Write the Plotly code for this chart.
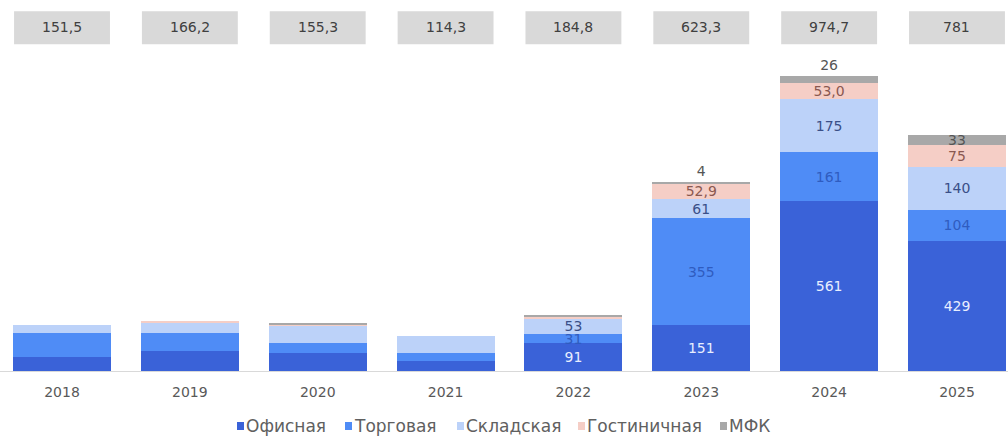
import plotly.graph_objects as go

# Commercial real estate volume by segment
years = ["2018", "2019", "2020", "2021", "2022", "2023", "2024", "2025"]
office = [46, 67, 58, 33, 91, 151, 561, 429]
trade = [79, 57, 35.5, 25, 31, 355, 161, 104]
warehouse = [26.5, 33, 57.5, 56.3, 53, 61, 175, 140]
hotel = [0, 9.2, 2.3, 0, 5, 52.9, 53.0, 75]
mfk = [0, 0, 2, 0, 4.8, 4, 26, 33]
totals = [151.5, 166.2, 155.3, 114.3, 184.8, 623.3, 974.7, 781]

series_names = ["Офисная", "Торговая", "Складская", "Гостиничная", "МФК"]
series_values = [office, trade, warehouse, hotel, mfk]
series_colors = ["#3a62d8", "#4f8cf6", "#bcd2f9", "#f5cec6", "#a8a8a8"]
label_colors = ["#e8eeff", "#2f5cc0", "#3a4f88", "#8a5850", "#555555"]
label_from = [4, 4, 4, 5, 5]  # first year index that carries a value label

NUM_FONT = "DejaVu Sans"


def fmt(v):
    if isinstance(v, float):
        return f"{v:.1f}".replace(".", ",")
    return str(v)


fig = go.Figure()
for name, vals, col, lcol, start in zip(series_names, series_values, series_colors,
                                        label_colors, label_from):
    texts = [fmt(v) if i >= start else "" for i, v in enumerate(vals)]
    if name == "МФК":
        pos = ["outside" if i in (5, 6) else "inside" for i in range(len(vals))]
    else:
        pos = "inside"
    fig.add_trace(go.Bar(
        x=years, y=vals, name=name,
        marker=dict(color=col, line=dict(width=0)),
        text=texts, textposition=pos, textangle=0,
        insidetextanchor="middle", constraintext="none",
        textfont=dict(family=NUM_FONT, size=14, color=lcol),
        outsidetextfont=dict(family=NUM_FONT, size=14, color=lcol),
        cliponaxis=False, showlegend=False,
    ))

plot_h = 371
fig.update_layout(
    width=1008, height=441,
    margin=dict(l=0, r=0, t=0, b=441 - plot_h),
    barmode="stack", bargap=0.233,
    plot_bgcolor="white", paper_bgcolor="white",
    xaxis=dict(
        type="category", range=[-0.485, 7.399],
        showline=True, linecolor="#d9d9d9", linewidth=1,
        showgrid=False, zeroline=False,
        ticks="outside", ticklen=8, tickcolor="rgba(0,0,0,0)",
        tickfont=dict(family=NUM_FONT, size=14, color="#595959"),
    ),
    yaxis=dict(range=[0, 1225.6], visible=False),
)

# Totals in grey boxes above each year
for i, t in enumerate(totals):
    fig.add_shape(type="rect", xref="x", yref="paper",
                  x0=i - 0.375, x1=i + 0.375, y0=0.881, y1=0.970,
                  fillcolor="#d9d9d9", line=dict(width=0), layer="below")
    fig.add_annotation(x=i, y=0.926, xref="x", yref="paper",
                       xanchor="center", yanchor="middle",
                       text=fmt(t), showarrow=False,
                       font=dict(family=NUM_FONT, size=14, color="#404040"))

# Legend row
legend_x = [237, 345, 457, 578, 720]
ly = (plot_h - 426) / plot_h
for name, col, px in zip(series_names, series_colors, legend_x):
    fig.add_shape(type="rect", xref="paper", yref="paper",
                  x0=px / 1008, x1=(px + 7) / 1008,
                  y0=(plot_h - 430) / plot_h, y1=(plot_h - 422) / plot_h,
                  fillcolor=col, line=dict(width=0))
    fig.add_annotation(x=(px + 7) / 1008, y=ly, xref="paper", yref="paper",
                       xanchor="left", yanchor="middle", text=name, showarrow=False,
                       font=dict(family="DejaVu Sans", size=17, color="#606060"))

fig.write_html("out.html")
